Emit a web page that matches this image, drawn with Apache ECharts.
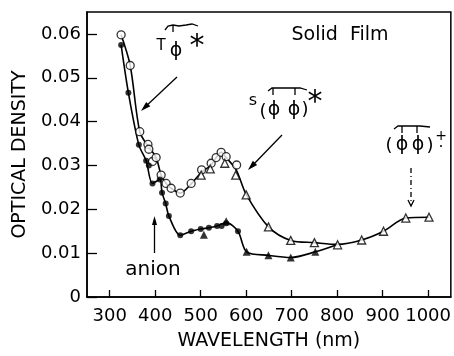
<!DOCTYPE html>
<html>
<head>
<meta charset="utf-8">
<script src="https://cdn.jsdelivr.net/npm/echarts@6/dist/echarts.min.js"></script>
<style>html,body{margin:0;padding:0;background:#fff;}#c{width:454px;height:356px;}</style>
</head>
<body>
<div id="c"></div>
<script>
// ---- data (wavelength nm, optical density) ----
var xTicks = [300, 400, 500, 600, 700, 800, 900, 1000];
var yTicks = [0, 0.01, 0.02, 0.03, 0.04, 0.05, 0.06];

var upperCurve = [[325,0.0598],[345,0.0528],[366,0.0377],[385,0.0343],[402,0.0318],[413,0.0278],[424,0.0259],[435,0.0248],[455,0.0237],[479,0.0258],[502,0.0285],[522,0.0300],[534,0.0318],[545,0.0330],[556,0.0318],[578,0.0290],[600,0.0234],[649,0.0160],[698,0.0129],[750,0.0124],[801,0.0120],[854,0.0130],[902,0.0150],[951,0.0180],[1002,0.0182]];
var lowerCurve = [[325,0.0575],[341,0.0466],[364,0.0347],[380,0.0311],[394,0.0259],[410,0.0268],[415,0.0238],[423,0.0213],[430,0.0185],[455,0.0141],[479,0.0150],[500,0.0155],[518,0.0158],[536,0.0162],[556,0.0170],[582,0.0150],[601,0.0103],[649,0.0095],[698,0.0090],[752,0.0103],[801,0.0120]];

var openCircles = [[325,0.0598],[345,0.0528],[366,0.0377],[384,0.0348],[386,0.0337],[394,0.0309],[402,0.0318],[413,0.0278],[424,0.0259],[435,0.0248],[455,0.0237],[479,0.0259],[502,0.0290],[523,0.0305],[534,0.0318],[545,0.0330],[556,0.0320],[579,0.0301]];
var openTriangles = [[501,0.0278],[521,0.0292],[553,0.0305],[577,0.0278],[600,0.0233],[649,0.0160],[698,0.0129],[750,0.0124],[801,0.0119],[854,0.0130],[902,0.0150],[951,0.0180],[1002,0.0182]];
var filledCircles = [[325,0.0575],[341,0.0466],[364,0.0347],[380,0.0311],[386,0.0300],[394,0.0259],[410,0.0268],[415,0.0238],[423,0.0213],[430,0.0185],[455,0.0141],[479,0.0150],[500,0.0155],[518,0.0158],[536,0.0162],[546,0.0162],[556,0.0168],[582,0.0150]];
var filledTriangles = [[507,0.0142],[556,0.0173],[601,0.0103],[649,0.0095],[698,0.0090],[752,0.0103]];

var FONT = 'DejaVu Sans';
var PHI = 'ϕ';
var chart = echarts.init(document.getElementById('c'), null, {renderer: 'canvas'});

function txt(x, y, s, size, extra) {
  var st = {text: s, x: x, y: y, fill: '#000', font: size + 'px "' + FONT + '"', align: 'center', verticalAlign: 'middle'};
  if (extra) for (var k in extra) st[k] = extra[k];
  return {type: 'text', style: st, z: 100};
}
function ln(pts, dash) {
  return {type: 'polyline', shape: {points: pts}, style: {stroke: '#000', lineWidth: 1.3, fill: null, lineDash: dash || null}, z: 100};
}
function head(tip, from, len, w) {
  var dx = tip[0]-from[0], dy = tip[1]-from[1], d = Math.sqrt(dx*dx+dy*dy);
  var ux = dx/d, uy = dy/d, bx = tip[0]-ux*len, by = tip[1]-uy*len;
  return {type: 'polygon', shape: {points: [tip, [bx-uy*w, by+ux*w], [bx+uy*w, by-ux*w]]}, style: {fill: '#000'}, z: 100};
}

var graphics = [
  txt(340, 35, 'Solid  Film', 19),
  txt(153, 270, 'anion', 20),
  // T phi *
  ln([[165,30],[168,26],[173,25],[179,26],[186,25],[192,24],[198,26]]),
  ln([[173,25],[173,32]]),
  txt(161, 46, 'T', 15),
  txt(176, 51, PHI, 19),
  txt(197, 47, '*', 30),
  ln([[177,77],[144,108]]),
  head([141,111],[177,77],10,3),
  // s(phi phi)*
  ln([[268,91],[272,88],[283,88],[290,88],[300,88],[307,90]]),
  ln([[273,88],[273,95]]), ln([[295,88],[295,95]]),
  txt(253, 101, 's', 16),
  txt(263, 112, '(', 18),
  txt(274, 110, PHI, 19),
  txt(294, 110, PHI, 19),
  txt(305, 110, ')', 18),
  txt(315, 103, '*', 30),
  ln([[282,135],[251,167]]),
  head([248,170],[282,135],10,3),
  // (phi phi)+
  ln([[394,129],[398,126],[410,126],[420,126],[430,127]]),
  ln([[402,126],[402,133]]), ln([[417,126],[417,133]]),
  txt(389, 146, '(', 18),
  txt(402, 145, PHI, 19),
  txt(418, 145, PHI, 19),
  txt(430, 146, ')', 18),
  txt(441, 136, '+', 14),
  {type: 'circle', shape: {cx: 441, cy: 146, r: 1}, style: {fill: '#000'}, z: 100},
  ln([[411,168],[411,205]], [5,3,1,3]),
  ln([[408,200],[411,206],[414,200]]),
  // anion arrow
  ln([[154.5,253],[154.5,220]]),
  head([154.5,216],[154.5,253],9,2.5)
];

var option = {
  animation: false,
  backgroundColor: '#fff',
  textStyle: {fontFamily: FONT},
  grid: {left: 87, right: 2, top: 12, bottom: 53, show: true, borderColor: '#000', borderWidth: 1.5, containLabel: false},
  xAxis: {
    type: 'value', min: 250, max: 1050,
    axisLine: {show: true, onZero: false, lineStyle: {color: '#000', width: 1.5}},
    axisTick: {show: true, inside: true, length: 7, customValues: xTicks, lineStyle: {color: '#000', width: 1.3}},
    axisLabel: {customValues: xTicks, color: '#000', fontSize: 18, margin: 10, fontFamily: FONT,
      formatter: function (v) { return String(v); }},
    splitLine: {show: false},
    name: 'WAVELENGTH (nm)', nameLocation: 'middle', nameGap: 35,
    nameTextStyle: {color: '#000', fontSize: 19, fontFamily: FONT}
  },
  yAxis: {
    type: 'value', min: 0, max: 0.065,
    axisLine: {show: true, lineStyle: {color: '#000', width: 1.5}},
    axisTick: {show: true, inside: true, length: 10, customValues: yTicks, lineStyle: {color: '#000', width: 1.3}},
    axisLabel: {customValues: yTicks, color: '#000', fontSize: 18, margin: 6, fontFamily: FONT,
      formatter: function (v) { return v === 0 ? '0' : v.toFixed(2); }},
    splitLine: {show: false},
    name: 'OPTICAL DENSITY', nameLocation: 'middle', nameGap: 53, nameRotate: 90,
    nameTextStyle: {color: '#000', fontSize: 19, fontFamily: FONT}
  },
  series: [
    {type: 'line', data: upperCurve, smooth: 0.3, showSymbol: false, lineStyle: {color: '#000', width: 1.6}, z: 2},
    {type: 'line', data: lowerCurve, smooth: 0.3, showSymbol: false, lineStyle: {color: '#000', width: 1.6}, z: 2},
    {type: 'scatter', data: openCircles, symbol: 'circle', symbolSize: 8, itemStyle: {color: '#fff', borderColor: '#000', borderWidth: 1.3}, z: 4},
    {type: 'scatter', data: openTriangles, symbol: 'triangle', symbolSize: 8, itemStyle: {color: '#fff', borderColor: '#000', borderWidth: 1.3}, z: 4},
    {type: 'scatter', data: filledCircles, symbol: 'circle', symbolSize: 6, itemStyle: {color: '#000'}, z: 5},
    {type: 'scatter', data: filledTriangles, symbol: 'triangle', symbolSize: 8, itemStyle: {color: '#000'}, z: 5}
  ],
  graphic: graphics
};
chart.setOption(option);
</script>
</body>
</html>
